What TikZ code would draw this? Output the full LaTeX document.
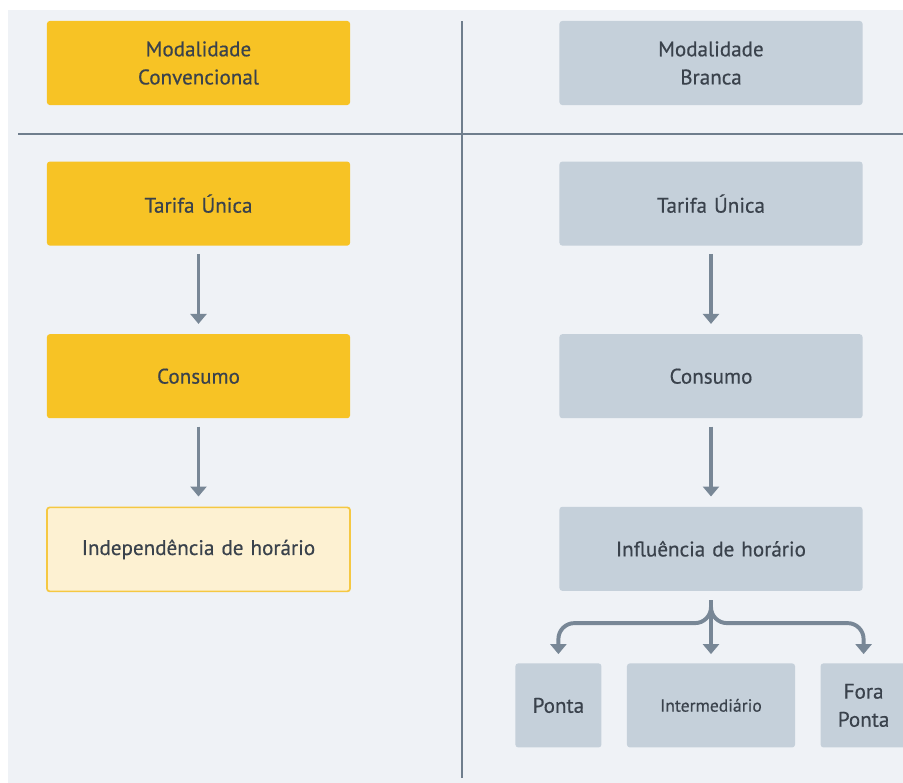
\documentclass[tikz,border=0pt]{standalone}
\usepackage{fontspec}
\setmainfont{PT Sans}
\newfontfamily\caixafont{PT Sans}[FakeBold=0.5]
\usetikzlibrary{arrows.meta, positioning}

\definecolor{bgcol}{HTML}{EFF2F6}
\definecolor{linecol}{HTML}{6F7E8D}
\definecolor{arrcol}{HTML}{788796}
\definecolor{txtcol}{HTML}{3A424C}
\definecolor{amarelo}{HTML}{F7C325}
\definecolor{amareloclaro}{HTML}{FDF1D2}
\definecolor{amareloborda}{HTML}{F5C842}
\definecolor{cinza}{HTML}{C5D0DA}

\tikzset{
  caixa/.style={rounded corners=2pt, minimum width=7.575cm, minimum height=2.1cm,
    text width=7cm, align=center, text=txtcol, font=\caixafont\fontsize{15}{20}\selectfont},
  caixaA/.style={caixa, fill=amarelo},
  caixaB/.style={caixa, fill=cinza},
  seta/.style={draw=arrcol, line width=2.8pt,
    -{Triangle[width=0.4cm,length=0.25cm]}},
  divisoria/.style={draw=linecol, line width=1.4pt}
}

\begin{document}
\begin{tikzpicture}[x=0.025cm,y=-0.025cm]

\useasboundingbox (0,0) rectangle (903,783);
\fill[bgcol] (8,10) rectangle (903,783);

% divisorias
\draw[divisoria] (18,134) -- (903,134);
\draw[divisoria] (462,21) -- (462,778);

% Modalidade Convencional
\node[caixaA] (convA) at (198.5,63) {Modalidade\\Convencional};
\node[caixaA, below=1.4cm of convA] (tarifaA) {Tarifa Única};
\node[caixaA, below=2.2cm of tarifaA] (consumoA) {Consumo};
\node[caixa, fill=amareloclaro, draw=amareloborda, line width=1.2pt,
    below=2.2cm of consumoA] (horaA) {Independência de horário};

% Modalidade Branca
\node[caixaB] (convB) at (711,63) {Modalidade\\Branca};
\node[caixaB, below=1.4cm of convB] (tarifaB) {Tarifa Única};
\node[caixaB, below=2.2cm of tarifaB] (consumoB) {Consumo};
\node[caixaB, below=2.2cm of consumoB] (horaB) {Influência de horário};

% postos horarios
\node[caixaB, minimum width=4.2cm, text width=3.8cm,
    font=\caixafont\fontsize{12.5}{15}\selectfont,
    below=1.8cm of horaB] (inter) {Intermediário};
\node[caixaB, minimum width=2.15cm, text width=1.8cm,
    left=0.625cm of inter] (ponta) {Ponta};
\node[caixaB, minimum width=2.15cm, text width=1.8cm,
    right=0.625cm of inter] (fora) {Fora\\Ponta};

% Arrows
\draw[seta, shorten <=0.2cm, shorten >=0.25cm] (tarifaA) -- (consumoA);
\draw[seta, shorten <=0.2cm, shorten >=0.25cm] (consumoA) -- (horaA);
\draw[seta, shorten <=0.2cm, shorten >=0.25cm] (tarifaB) -- (consumoB);
\draw[seta, shorten <=0.2cm, shorten >=0.25cm] (consumoB) -- (horaB);

\coordinate (garfo) at ([yshift=-0.8cm]horaB.south);
\draw[seta, shorten <=0.225cm, shorten >=0.225cm] (horaB) -- (inter);
\draw[seta, rounded corners=0.4cm, shorten <=0.225cm, shorten >=0.225cm]
    (horaB.south) -- (garfo) -| (ponta.north);
\draw[seta, rounded corners=0.4cm, shorten <=0.225cm, shorten >=0.225cm]
    (horaB.south) -- (garfo) -| (fora.north);

\end{tikzpicture}
\end{document}
